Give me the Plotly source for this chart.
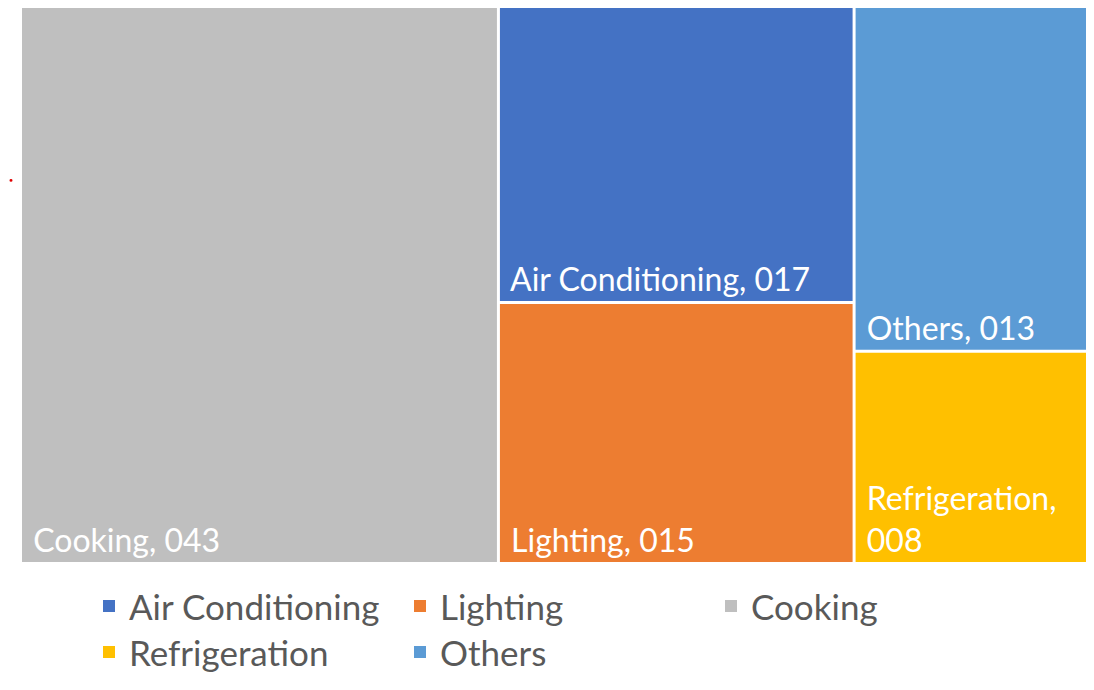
import plotly.graph_objects as go

categories = ["Cooking", "Air Conditioning", "Lighting", "Others", "Refrigeration"]
values = [43, 17, 15, 13, 8]
colors = ["#BFBFBF", "#4472C4", "#ED7D31", "#5B9BD5", "#FFC000"]
tile_text = ["Cooking, 043", "Air Conditioning, 017", "Lighting, 015",
             "Others, 013", "Refrigeration,<br>008"]
legend_row1 = ["Air Conditioning", "Lighting", "Cooking"]
legend_row2 = ["Refrigeration", "Others"]

# page has an 8px default body margin -> figure sized to fit the window exactly
W, H = 1078, 674
FONT = "Lato, Carlito, Calibri, sans-serif"
PAD = "\u00a0"

ids = ["root"] + categories
labels = [""] + categories
parents = [""] + ["root"] * len(categories)
vals = [0] + values
texts = [""] + [PAD + t.replace("<br>", "<br>" + PAD) for t in tile_text]
cols = ["white"] + colors

fig = go.Figure()
fig.add_trace(go.Treemap(
    ids=ids,
    labels=labels,
    parents=parents,
    values=vals,
    branchvalues="remainder",
    text=texts,
    texttemplate="%{text}",
    textposition="bottom left",
    textfont=dict(family=FONT, size=32, color="white"),
    marker=dict(colors=cols, line=dict(color="white", width=0),
                pad=dict(t=0, l=0, r=0, b=0)),
    sort=True,
    tiling=dict(packing="squarify", pad=3),
    pathbar=dict(visible=False),
    hoverinfo="skip",
    domain=dict(x=[14 / W, 1.0], y=[1 - 564 / H, 1.0]),
))

color_of = dict(zip(categories, colors))
for name in legend_row1:
    fig.add_trace(go.Scatter(x=[None], y=[None], mode="markers", name=name,
                             marker=dict(symbol="square", size=12, color=color_of[name]),
                             legend="legend"))
for name in legend_row2:
    fig.add_trace(go.Scatter(x=[None], y=[None], mode="markers", name=name,
                             marker=dict(symbol="square", size=12, color=color_of[name]),
                             legend="legend2"))

legend_common = dict(orientation="h", xanchor="left", yanchor="middle",
                     font=dict(family=FONT, size=35, color="#595959"),
                     entrywidth=266, entrywidthmode="pixels",
                     bgcolor="rgba(0,0,0,0)", itemclick=False)

fig.update_layout(
    width=W, height=H,
    margin=dict(l=0, r=0, t=0, b=0),
    paper_bgcolor="white", plot_bgcolor="white",
    xaxis=dict(visible=False), yaxis=dict(visible=False),
    legend=dict(x=81 / W, y=1 - 609 / H, **legend_common),
    legend2=dict(x=81 / W, y=1 - 656 / H, **legend_common),
    shapes=[dict(type="circle", xref="paper", yref="paper",
                 x0=1.5 / W, x1=4.5 / W, y0=1 - 177 / H, y1=1 - 174 / H,
                 fillcolor="#E00000", line=dict(width=0))],
)

fig.write_html("out.html")
